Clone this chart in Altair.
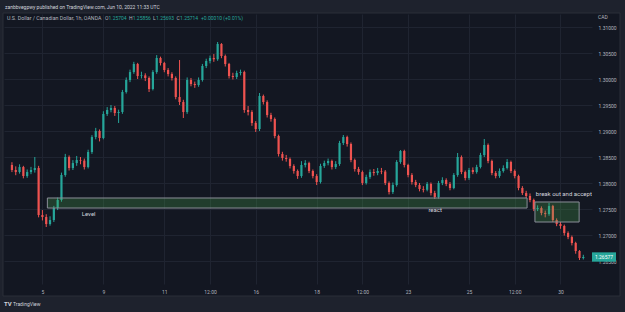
import altair as alt
import pandas as pd

# ---------------- data (USD/CAD, OANDA) ----------------
first_open = 1.28346
closes = [
    1.28250, 1.28211, 1.28307, 1.28134, 1.28211, 1.28250, 1.28288, 1.27384, 1.27346, 1.27211,
    1.27288, 1.27519, 1.27673, 1.28154, 1.28500, 1.28288, 1.28384, 1.28442, 1.28430, 1.28307,
    1.28596, 1.28884, 1.29000, 1.28865, 1.29327, 1.29404, 1.29442, 1.29346, 1.29365, 1.29750,
    1.29981, 1.30134, 1.30288, 1.30057, 1.30070, 1.30019, 1.29807, 1.30134, 1.30404, 1.30307,
    1.30173, 1.30096, 1.30019, 1.29654, 1.29557, 1.29365, 1.29981, 1.29904, 1.29884, 1.29981,
    1.30250, 1.30346, 1.30404, 1.30380, 1.30673, 1.30442, 1.30288, 1.30057, 1.30038, 1.30115,
    1.30134, 1.29404, 1.29365, 1.29154, 1.29038, 1.29673, 1.29557, 1.29307, 1.29231, 1.28904,
    1.28557, 1.28481, 1.28461, 1.28327, 1.28231, 1.28134, 1.28346, 1.28384, 1.28231, 1.28134,
    1.28019, 1.28327, 1.28384, 1.28423, 1.28307, 1.28365, 1.28769, 1.28884, 1.28750, 1.28442,
    1.28269, 1.28211, 1.28000, 1.28115, 1.28211, 1.28192, 1.28231, 1.28220, 1.28000, 1.27827,
    1.27961, 1.28404, 1.28615, 1.28346, 1.28154, 1.28019, 1.27961, 1.27884, 1.27870, 1.27981,
    1.27807, 1.27731, 1.28000, 1.28057, 1.27981, 1.27904, 1.28154, 1.28500, 1.28211, 1.28096,
    1.28250, 1.28211, 1.28307, 1.28538, 1.28731, 1.28423, 1.28192, 1.28134, 1.28231, 1.28288,
    1.28404, 1.28231, 1.28134, 1.27904, 1.27807, 1.27750, 1.27673, 1.27500, 1.27519, 1.27423,
    1.27404, 1.27557, 1.27288, 1.27211, 1.27173, 1.27038, 1.26961, 1.26846, 1.26692, 1.26557,
    1.26577,
]
highs = [
    1.28400, 1.28320, 1.28360, 1.28330, 1.28260, 1.28310, 1.28500, 1.28330, 1.27480, 1.27400,
    1.27360, 1.27560, 1.27720, 1.28200, 1.28560, 1.28530, 1.28440, 1.28520, 1.28500, 1.28470,
    1.28640, 1.28920, 1.29060, 1.29030, 1.29380, 1.29460, 1.29500, 1.29480, 1.29410, 1.29790,
    1.30030, 1.30180, 1.30330, 1.30310, 1.30140, 1.30110, 1.30050, 1.30170, 1.30460, 1.30430,
    1.30330, 1.30210, 1.30130, 1.30050, 1.30365, 1.29600, 1.30030, 1.30020, 1.29950, 1.30030,
    1.30290, 1.30390, 1.30450, 1.30480, 1.30711, 1.30690, 1.30470, 1.30310, 1.30120, 1.30160,
    1.30180, 1.30160, 1.29480, 1.29400, 1.29190, 1.29731, 1.29700, 1.29590, 1.29350, 1.29260,
    1.28930, 1.28600, 1.28540, 1.28490, 1.28360, 1.28260, 1.28420, 1.28440, 1.28410, 1.28260,
    1.28170, 1.28370, 1.28430, 1.28470, 1.28450, 1.28420, 1.28810, 1.28923, 1.28910, 1.28780,
    1.28470, 1.28310, 1.28240, 1.28160, 1.28260, 1.28270, 1.28290, 1.28290, 1.28250, 1.28030,
    1.28010, 1.28440, 1.28634, 1.28640, 1.28370, 1.28190, 1.28060, 1.28000, 1.27940, 1.28020,
    1.28010, 1.27850, 1.28040, 1.28110, 1.28090, 1.28020, 1.28190, 1.28577, 1.28530, 1.28240,
    1.28290, 1.28300, 1.28350, 1.28580, 1.28846, 1.28760, 1.28450, 1.28230, 1.28280, 1.28340,
    1.28460, 1.28430, 1.28260, 1.28160, 1.27940, 1.27850, 1.27800, 1.27700, 1.27570, 1.27550,
    1.27470, 1.27615, 1.27580, 1.27320, 1.27250, 1.27200, 1.27070, 1.26990, 1.26870, 1.26710,
    1.26620,
]
lows = [
    1.28210, 1.28150, 1.28180, 1.28090, 1.28100, 1.28170, 1.28200, 1.27340, 1.27280, 1.27154,
    1.27180, 1.27250, 1.27480, 1.27640, 1.28120, 1.28240, 1.28250, 1.28330, 1.28360, 1.28260,
    1.28280, 1.28560, 1.28840, 1.28800, 1.28840, 1.29290, 1.29360, 1.29290, 1.29154, 1.29330,
    1.29720, 1.29940, 1.30100, 1.30000, 1.30010, 1.29960, 1.29750, 1.29780, 1.30100, 1.30260,
    1.30130, 1.30050, 1.29970, 1.29610, 1.29500, 1.29250, 1.29330, 1.29860, 1.29830, 1.29850,
    1.29950, 1.30210, 1.30300, 1.30330, 1.30350, 1.30400, 1.30240, 1.30010, 1.29990, 1.30000,
    1.30070, 1.29350, 1.29300, 1.29100, 1.28981, 1.29000, 1.29510, 1.29260, 1.29180, 1.28860,
    1.28510, 1.28430, 1.28410, 1.28280, 1.28180, 1.28080, 1.28100, 1.28300, 1.28190, 1.28090,
    1.27961, 1.27990, 1.28290, 1.28340, 1.28260, 1.28270, 1.28330, 1.28730, 1.28700, 1.28400,
    1.28220, 1.28160, 1.27960, 1.27970, 1.28080, 1.28140, 1.28150, 1.28170, 1.27960, 1.27780,
    1.27790, 1.27930, 1.28370, 1.28300, 1.28110, 1.27970, 1.27920, 1.27840, 1.27820, 1.27840,
    1.27760, 1.27692, 1.27700, 1.27960, 1.27940, 1.27860, 1.27880, 1.28120, 1.28170, 1.28050,
    1.28060, 1.28170, 1.28180, 1.28280, 1.28500, 1.28380, 1.28150, 1.28090, 1.28100, 1.28200,
    1.28260, 1.28190, 1.28090, 1.27860, 1.27770, 1.27710, 1.27630, 1.27460, 1.27460, 1.27380,
    1.27340, 1.27370, 1.27250, 1.27170, 1.27120, 1.26990, 1.26920, 1.26800, 1.26640, 1.26520,
    1.26530,
]
# trading hours since May 4 00:00 (weekends removed), one candle every 3 hours
hours = list(range(0, 3 * len(closes), 3))

time_tick_hours = [24, 72, 120, 156, 192, 240, 276, 312, 360, 396, 432]
time_tick_labels = ["5", "9", "11", "12:00", "16", "18", "12:00", "23", "25", "12:00", "30"]
price_ticks = [1.265, 1.270, 1.275, 1.280, 1.285, 1.290, 1.295, 1.300, 1.305, 1.310]

zone_names = ["Level", "break"]
zone_start_h = [27.9, 411.9]
zone_end_h = [405.7, 446.7]
zone_low = [1.27519, 1.27250]
zone_high = [1.27712, 1.27635]

note_texts = ["Level", "react"]
note_hours = [60.4, 333.3]
note_prices = [1.27404, 1.27480]
break_text = "break out and accept"
break_hour = [412.6]
break_price = [1.27788]

last_price = 1.26577

# ---------------- tables ----------------
opens = [first_open] + closes[:-1]
candles = pd.DataFrame({
    "t": hours, "open": opens, "close": closes, "high": highs, "low": lows,
})
candles["dir"] = ["up" if c >= o else "down" for o, c in zip(opens, closes)]

zones = pd.DataFrame({"name": zone_names, "t0": zone_start_h, "t1": zone_end_h,
                      "p0": zone_low, "p1": zone_high})
notes = pd.DataFrame({"text": note_texts, "t": note_hours, "p": note_prices})
notes_break = pd.DataFrame({"text": [break_text], "t": break_hour, "p": break_price})
lastdf = pd.DataFrame({"p": [last_price], "lab": [f"{last_price:.5f}"]})
one = pd.DataFrame({"a": [0]})

# ---------------- styling ----------------
FONT = "Roboto"
BG_OUT = "#1e222d"
BG_PANEL = "#131722"
GRID = "#1f2431"
TXT = "#b2b5be"
UP = "#26a69a"
DOWN = "#ef5350"

W, H = 588, 270

labels_js = "[" + ",".join(f"'{s}'" for s in time_tick_labels) + "]"
hours_js = "[" + ",".join(str(h) for h in time_tick_hours) + "]"

x_scale = alt.Scale(domain=[-2.32, 452.9], nice=False, zero=False)
y_scale = alt.Scale(domain=[1.26058, 1.3125], nice=False, zero=False)

x_axis = alt.Axis(values=time_tick_hours, labelExpr=f"{labels_js}[indexof({hours_js}, datum.value)]",
                  grid=True, gridColor=GRID, gridWidth=1, ticks=False, domain=False,
                  labelColor=TXT, labelFont=FONT, labelFontSize=5, labelPadding=5,
                  title=None, labelFlush=False)
y_axis = alt.Axis(values=price_ticks, format=".5f", orient="right",
                  grid=True, gridColor=GRID, gridWidth=1, ticks=False, domain=False,
                  labelColor=TXT, labelFont=FONT, labelFontSize=5, labelPadding=6,
                  labelAlign="left", title=None, labelFlush=False)

X = lambda f: alt.X(f, type="quantitative", scale=x_scale, axis=x_axis)
Y = lambda f: alt.Y(f, type="quantitative", scale=y_scale, axis=y_axis)
color = alt.Color("dir:N", scale=alt.Scale(domain=["up", "down"], range=[UP, DOWN]), legend=None)


def strip(x0, x1, y0, y1):
    return alt.Chart(one).mark_rect(fill=BG_OUT).encode(
        x=alt.value(x0), x2=alt.value(x1), y=alt.value(y0), y2=alt.value(y1))


frame = [
    strip(-4, 621, -14, -1),    # header band
    strip(-4, 621, 282, 298),   # footer band
    strip(-4, -1, -14, 298),    # left edge
    strip(616, 621, -14, 298),  # right edge
]
panel_border = alt.Chart(one).mark_rect(fill=None, stroke="#2a2e39", strokeWidth=1).encode(
    x=alt.value(-1), x2=alt.value(616), y=alt.value(-1), y2=alt.value(282))

wicks = alt.Chart(candles).mark_rule(strokeWidth=1).encode(
    x=X("t"), y=Y("low"), y2="high", color=color)
bodies = alt.Chart(candles).mark_bar(width=2.2).encode(
    x=X("t"), y=Y("open"), y2="close", color=color)

zone_rects = alt.Chart(zones).mark_rect(
    fill="#4caf50", fillOpacity=0.25, stroke="#8a8e98", strokeWidth=1).encode(
    x=X("t0"), x2="t1", y=Y("p0"), y2="p1")

note_layer = alt.Chart(notes).mark_text(
    font=FONT, fontSize=6, color="#d1d4dc", align="center", baseline="middle").encode(
    x=X("t"), y=Y("p"), text="text:N")
break_layer = alt.Chart(notes_break).mark_text(
    font=FONT, fontSize=6, color="#d1d4dc", align="left", baseline="middle", clip=True).encode(
    x=X("t"), y=Y("p"), text="text:N")

last_box = alt.Chart(lastdf).mark_rect(fill=UP).encode(
    x=alt.value(588), x2=alt.value(612),
    y=alt.Y("p_hi:Q", scale=y_scale, axis=y_axis), y2="p_lo:Q").transform_calculate(
    p_hi="datum.p + 0.0009", p_lo="datum.p - 0.0009")
last_txt = alt.Chart(lastdf).mark_text(
    font=FONT, fontSize=5, color="#ffffff", align="center", baseline="middle").encode(
    x=alt.value(600), y=Y("p"), text="lab:N")


def txt(s, x, y, col=TXT, size=5, weight="normal", align="left"):
    return alt.Chart(one).mark_text(
        text=s, font=FONT, fontSize=size, color=col, fontWeight=weight,
        align=align, baseline="middle").encode(x=alt.value(x), y=alt.value(y))


texts = [
    txt("zanbbvegpwy published on TradingView.com, Jun 10, 2022 11:33 UTC", 1, -7, "#d1d4dc"),
    txt("U.S. Dollar / Canadian Dollar, 1h, OANDA", 3, 4, TXT, 5.3),
    txt("O", 101, 4), txt("1.25704", 104.5, 4, UP),
    txt("H", 125, 4), txt("1.25856", 128.7, 4, UP),
    txt("L", 149, 4), txt("1.25693", 152, 4, UP),
    txt("C", 172.5, 4), txt("1.25714", 176, 4, UP),
    txt("+0.00010 (+0.01%)", 197, 4, UP),
    txt("CAD", 594, 3),
    txt("TV", 0, 290, "#d1d4dc", 6, "bold"),
    txt("TradingView", 9, 290, "#d1d4dc", 5),
]

chart = alt.layer(
    wicks, bodies, zone_rects, note_layer, break_layer, *frame, panel_border,
    last_box, last_txt, *texts
).properties(
    width=W, height=H, background=BG_PANEL,
    padding={"left": 4, "top": 14, "right": 33, "bottom": 28},
    autosize=alt.AutoSizeParams(type="none"),
).configure_view(stroke=None, fill=None)

chart.save("out.html", embed_options={"renderer": "svg", "actions": False})
